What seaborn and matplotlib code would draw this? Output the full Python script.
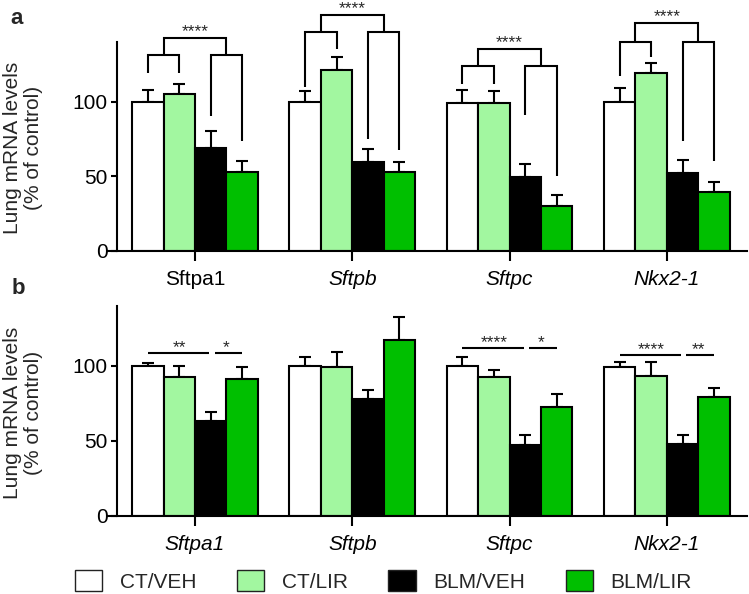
import numpy as np
import pandas as pd
import seaborn as sns
import matplotlib.pyplot as plt
from matplotlib.patches import Patch

# Datos
genes = ["Sftpa1", "Sftpb", "Sftpc", "Nkx2-1"]
groups = ["CT/VEH", "CT/LIR", "BLM/VEH", "BLM/LIR"]
colors = ["#ffffff", "#a2f7a0", "#000000", "#00bf00"]

# panel a: medias y error superior (SEM)
a_ct_veh = [100, 100, 99, 100]
a_ct_lir = [105.5, 121, 99, 119]
a_blm_veh = [69, 59.5, 49.5, 52.5]
a_blm_lir = [53, 53, 30, 39.5]
a_err_ct_veh = [8, 7.5, 9, 9]
a_err_ct_lir = [6.5, 9, 8, 7]
a_err_blm_veh = [11.5, 8.5, 9, 8.5]
a_err_blm_lir = [7.5, 6.5, 7.5, 6.5]

# panel b
b_ct_veh = [100, 100, 100, 99.6]
b_ct_lir = [92.6, 99, 92.8, 93.3]
b_blm_veh = [63.4, 78, 47.2, 47.9]
b_blm_lir = [91.2, 117, 72.8, 79.1]
b_err_ct_veh = [2.2, 5.8, 6, 3]
b_err_ct_lir = [7.2, 10.4, 4.5, 9]
b_err_blm_veh = [5.6, 5.6, 7, 6]
b_err_blm_lir = [7.8, 15.7, 8.3, 6.3]

# anotaciones panel a (alturas de los corchetes)
a_tips = [[119.5, 119.5, 90.6, 74], [110, 135, 75, 67.8],
          [112, 112, 91, 50], [117.4, 130, 74, 60]]
a_arm = [131, 147, 124, 140]
a_top = [143, 158.4, 135.6, 153]
a_stars = ["****", "****", "****", "****"]

# anotaciones panel b
b_line_y = [108.3, None, 111.7, 107.2]
b_stars1 = ["**", None, "****", "****"]
b_stars2 = ["*", None, "*", "**"]


def long_df(vals, errs):
    rows = []
    for g, v, e in zip(groups, vals, errs):
        for gene, m, s in zip(genes, v, e):
            rows.append({"gene": gene, "group": g, "mean": m, "err": s})
    return pd.DataFrame(rows)


df_a = long_df([a_ct_veh, a_ct_lir, a_blm_veh, a_blm_lir],
               [a_err_ct_veh, a_err_ct_lir, a_err_blm_veh, a_err_blm_lir])
df_b = long_df([b_ct_veh, b_ct_lir, b_blm_veh, b_blm_lir],
               [b_err_ct_veh, b_err_ct_lir, b_err_blm_veh, b_err_blm_lir])

sns.set_style("ticks")
plt.rcParams['font.family'] = ['Liberation Sans', 'DejaVu Sans']

fig = plt.figure(figsize=(7.49, 5.94), dpi=100)
W, H = 749, 594
ax_a = fig.add_axes([108 / W, 1 - 251 / H, 639 / W, 209 / H])
ax_b = fig.add_axes([108 / W, 1 - 515.7 / H, 639 / W, 209.7 / H])

LW = 1.5
FS = 15


def draw_panel(ax, df):
    sns.barplot(data=df, x="gene", y="mean", hue="group", order=genes,
                hue_order=groups, palette=colors, errorbar=None,
                edgecolor="black", linewidth=LW, width=0.8, gap=0,
                saturation=1, legend=False, ax=ax)
    bars = sorted([p for p in ax.patches if p.get_height() > 0],
                  key=lambda p: p.get_x())
    centers = np.array([p.get_x() + p.get_width() / 2 for p in bars]).reshape(4, 4)
    # errores: solo hacia arriba
    for i, gene in enumerate(genes):
        sub = df[df.gene == gene].set_index("group").loc[groups]
        ax.errorbar(centers[i], sub["mean"].values,
                    yerr=[np.zeros(4), sub["err"].values], fmt="none",
                    ecolor="black", elinewidth=LW, capsize=4.5,
                    capthick=LW, zorder=0.9)
    ax.set_xlim(-0.553, 3.51)
    ax.set_ylim(0, 140)
    ax.set_yticks([0, 50, 100])
    ax.set_xlabel("")
    ax.set_ylabel("")
    sns.despine(ax=ax)
    ax.spines['left'].set_position(('data', -0.496))
    for s in ['left', 'bottom']:
        ax.spines[s].set_linewidth(LW)
        ax.spines[s].set_color("black")
    ax.tick_params(axis='x', length=7, width=LW, pad=7, labelsize=FS, colors="black")
    ax.tick_params(axis='y', length=4.3, width=LW, pad=2.5, labelsize=FS, colors="black")
    return centers


def bline(ax, xs, ys):
    ax.plot(xs, ys, color="black", lw=LW, clip_on=False,
            solid_capstyle="butt", solid_joinstyle="miter")


# ---- panel a
ca = draw_panel(ax_a, df_a)
for i in range(4):
    c = ca[i]
    t = a_tips[i]
    bline(ax_a, [c[0], c[0], c[1], c[1]], [t[0], a_arm[i], a_arm[i], t[1]])
    bline(ax_a, [c[2], c[2], c[3], c[3]], [t[2], a_arm[i], a_arm[i], t[3]])
    m1 = (c[0] + c[1]) / 2
    m2 = (c[2] + c[3]) / 2
    bline(ax_a, [m1, m1, m2, m2], [a_arm[i], a_top[i], a_top[i], a_arm[i]])
    ax_a.text((m1 + m2) / 2, a_top[i] + 1, a_stars[i], ha="center",
              va="baseline", fontsize=12.5, clip_on=False)
for k, lab in enumerate(ax_a.get_xticklabels()):
    lab.set_fontstyle("normal" if k == 0 else "italic")

# ---- panel b
cb = draw_panel(ax_b, df_b)
for i in range(4):
    if b_line_y[i] is None:
        continue
    c = cb[i]
    y = b_line_y[i]
    bline(ax_b, [c[0], c[2] - 0.01], [y, y])
    bline(ax_b, [c[2] + 0.025, c[3]], [y, y])
    ax_b.text((c[0] + c[2]) / 2, y + 1, b_stars1[i], ha="center",
              va="baseline", fontsize=12.5)
    ax_b.text((c[2] + c[3]) / 2, y + 1, b_stars2[i], ha="center",
              va="baseline", fontsize=12.5)
for lab in ax_b.get_xticklabels():
    lab.set_fontstyle("italic")

# etiquetas
for yc in [148, 413]:
    fig.text(23 / W, 1 - yc / H, "Lung mRNA levels\n(% of control)",
             rotation=90, ha="center", va="center", fontsize=FS,
             linespacing=1.1)
fig.text(10 / W, 1 - 18 / H, "a", fontsize=16, fontweight="bold",
         ha="left", va="center")
fig.text(12 / W, 1 - 288 / H, "b", fontsize=16, fontweight="bold",
         ha="left", va="center")

handles = [Patch(facecolor=col, edgecolor="#222222", linewidth=1)
           for col in colors]
fig.legend(handles, groups, loc="center", bbox_to_anchor=(0.512, 0.022),
           ncol=4, frameon=False, fontsize=FS, handlelength=1.3,
           handleheight=1.15, handletextpad=0.85, columnspacing=1.95)

plt.savefig("out.png", dpi=100)
